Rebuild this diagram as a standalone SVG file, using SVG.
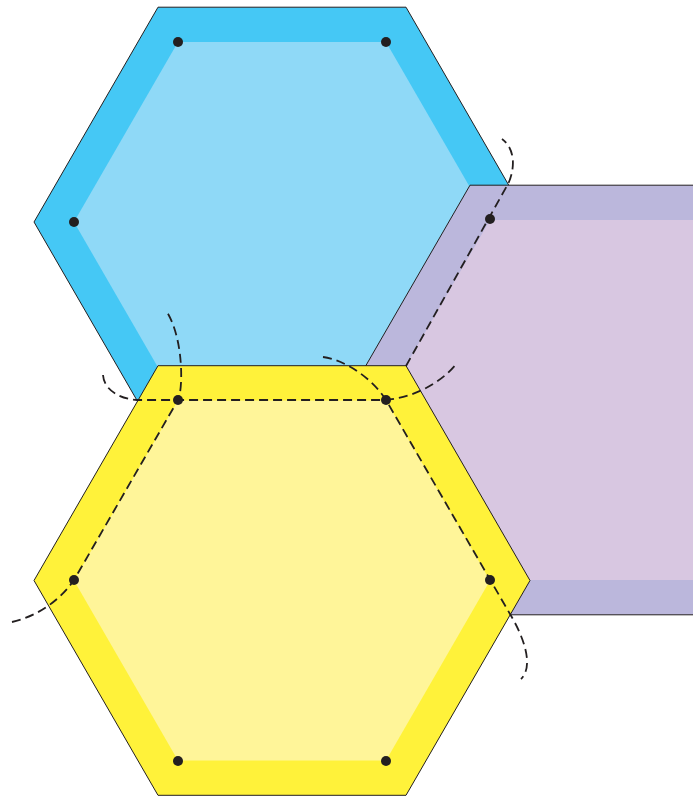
<svg xmlns="http://www.w3.org/2000/svg" width="700" height="797" viewBox="0 0 700 797">
  <style>
    .outer { stroke: #231f20; stroke-width: 1; stroke-linejoin: miter; }
    .inner { stroke: none; }
    .dash { fill: none; stroke: #231f20; stroke-width: 1.8; stroke-dasharray: 9 5; }
    .dot { fill: #231f20; }
  </style>
  <defs>
    <clipPath id="clipR">
      <rect x="0" y="0" width="693" height="797"/>
    </clipPath>
  </defs>
  <rect width="700" height="797" fill="#ffffff"/>

  <g id="hex-blue">
    <polygon class="outer" fill="#45c8f5" points="158,7.2 406,7.2 530,222 406,436.8 158,436.8 34,222"/>
    <polygon class="inner" fill="#8fd9f7" points="178,41.9 386,41.9 490,222 386,402.1 178,402.1 74,222"/>
  </g>

  <g id="hex-purple" clip-path="url(#clipR)">
    <polygon class="outer" fill="#bbb7dc" points="470,185.2 718,185.2 842,400 718,614.8 470,614.8 346,400"/>
    <polygon class="inner" fill="#d8c7e1" points="490,220 698,220 802,400 698,580 490,580 386,400"/>
  </g>

  <g id="hex-yellow">
    <polygon class="outer" fill="#fff23a" points="158,365.7 406,365.7 530,580.5 406,795.3 158,795.3 34,580.5"/>
    <polygon class="inner" fill="#fff599" points="178,400.4 386,400.4 490,580.5 386,760.6 178,760.6 74,580.5"/>
  </g>

  <g id="connectors">
    <path class="dash" d="M12,622 C30,618 56,606 74,580 L178,400 C183,390 184,340 167,312"/>
    <path class="dash" d="M103,375 C104,390 120,399 137,400 L386,400 C410,398 440,385 457,363"/>
    <path class="dash" d="M323,357 C345,360 372,378 386,400 L510,614 C522,634 535,665 521,679"/>
    <path class="dash" d="M406,366 L508,184 C514,172 517,150 502,139"/>
  </g>

  <g id="vertices">
    <circle class="dot" cx="178" cy="42" r="5"/>
    <circle class="dot" cx="386" cy="42" r="5"/>
    <circle class="dot" cx="74" cy="222" r="5"/>
    <circle class="dot" cx="490" cy="219" r="5"/>
    <circle class="dot" cx="178" cy="400" r="5"/>
    <circle class="dot" cx="386" cy="400" r="5"/>
    <circle class="dot" cx="74" cy="580" r="5"/>
    <circle class="dot" cx="490" cy="580" r="5"/>
    <circle class="dot" cx="178" cy="761" r="5"/>
    <circle class="dot" cx="386" cy="761" r="5"/>
  </g>
</svg>
